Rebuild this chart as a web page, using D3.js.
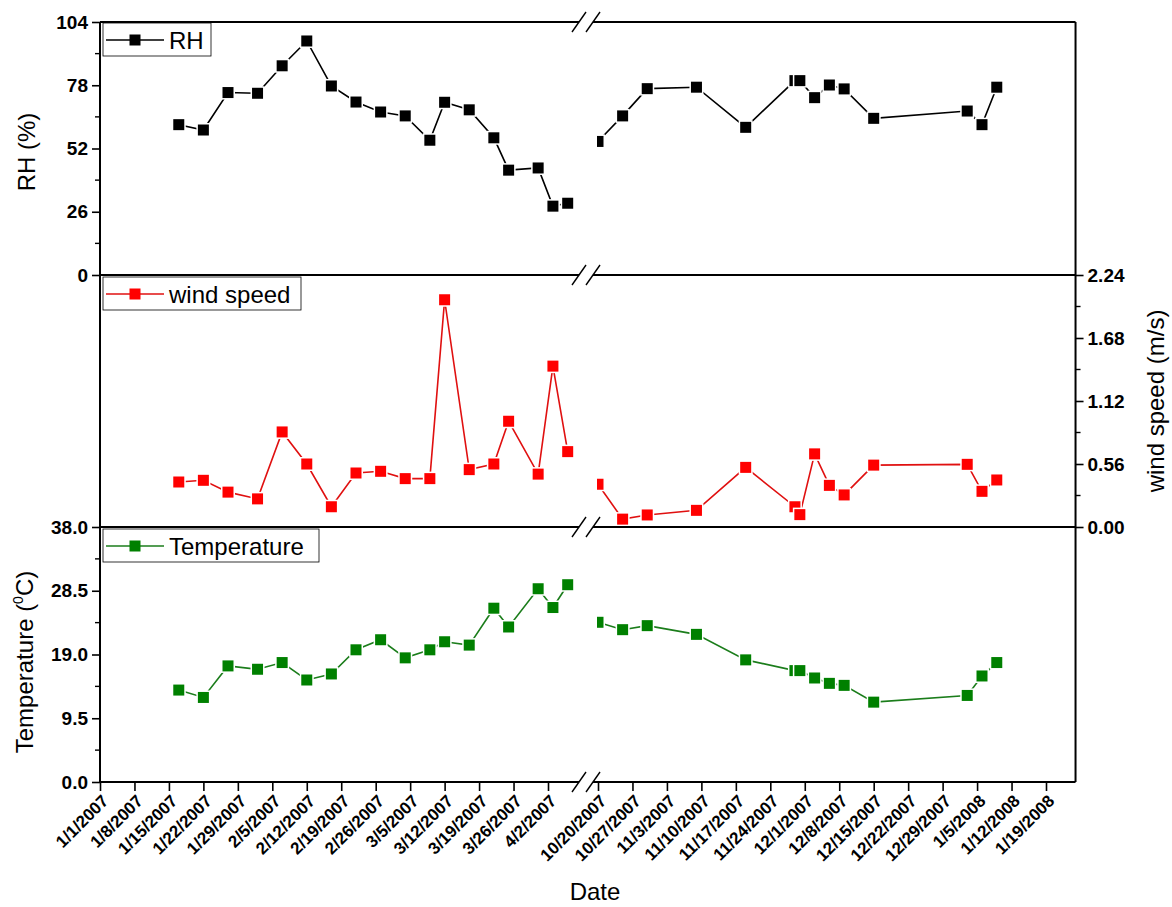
<!DOCTYPE html>
<html><head><meta charset="utf-8">
<script src="https://cdn.jsdelivr.net/npm/d3@7"></script>
<style>body{margin:0;background:#fff}</style>
</head><body><svg id="c" width="1172" height="907"></svg>
<script>
// ---------- data ----------
const datesA = ["2007-01-17","2007-01-22","2007-01-27","2007-02-02","2007-02-07","2007-02-12","2007-02-17","2007-02-22","2007-02-27","2007-03-04","2007-03-09","2007-03-12","2007-03-17","2007-03-22","2007-03-25","2007-03-31","2007-04-03","2007-04-06"];
const datesB = ["2007-10-20","2007-10-25","2007-10-30","2007-11-09","2007-11-19","2007-11-29","2007-11-30","2007-12-03","2007-12-06","2007-12-09","2007-12-15","2008-01-03","2008-01-06","2008-01-09"];
const rhA   = [61.8,59.6,75.0,74.7,86.0,96.2,77.7,71.1,67.0,65.4,55.4,71.0,67.9,56.4,43.1,44.0,28.3,29.5];
const rhB   = [54.9,65.4,76.6,77.2,60.7,79.9,79.9,72.9,78.1,76.5,64.4,67.4,61.8,77.2];
const windA = [0.40,0.415,0.31,0.25,0.845,0.56,0.18,0.48,0.495,0.43,0.43,2.02,0.51,0.56,0.94,0.47,1.43,0.67];
const windB = [0.38,0.07,0.107,0.148,0.53,0.18,0.11,0.65,0.37,0.285,0.55,0.557,0.317,0.418];
const tempA = [13.7,12.6,17.3,16.8,17.8,15.2,16.1,19.7,21.2,18.5,19.7,20.9,20.4,25.9,23.1,28.8,26.0,29.4];
const tempB = [23.8,22.7,23.3,22.0,18.2,16.6,16.6,15.5,14.7,14.4,11.9,12.9,15.8,17.8];

const xTicksA = ["1/1/2007","1/8/2007","1/15/2007","1/22/2007","1/29/2007","2/5/2007","2/12/2007","2/19/2007","2/26/2007","3/5/2007","3/12/2007","3/19/2007","3/26/2007","4/2/2007"];
const xTicksB = ["10/20/2007","10/27/2007","11/3/2007","11/10/2007","11/17/2007","11/24/2007","12/1/2007","12/8/2007","12/15/2007","12/22/2007","12/29/2007","1/5/2008","1/12/2008","1/19/2008"];
const rhTicks = [0,26,52,78,104],        rhMinor = [13,39,65,91];
const windTicks = [0,0.56,1.12,1.68,2.24], windMinor = [0.28,0.84,1.40,1.96];
const tempTicks = [0,9.5,19,28.5,38],    tempMinor = [4.75,14.25,23.75,33.25];

// ---------- layout ----------
const FONT = "'Liberation Sans', Arial, sans-serif";
const svg = d3.select("#c");
svg.append("rect").attr("width",1172).attr("height",907).attr("fill","#fff");
const pd = d3.utcParse("%Y-%m-%d");
const pt = d3.utcParse("%m/%d/%Y");
const L = 100, pxDay = 448/91;
const xL = d3.scaleUtc().domain([pd("2007-01-01"), pd("2007-04-08")]).range([L, L + 97*pxDay]);
const xR = d3.scaleUtc().domain([pd("2007-10-20"), pd("2008-01-25")]).range([598, 598 + 97*pxDay]);
const R = xR.range()[1];
const Y0 = 22, Y1 = 275, Y2 = 527, Y3 = 782;
const yRH = d3.scaleLinear().domain([0,104]).range([Y1,Y0]);
const yW  = d3.scaleLinear().domain([0,2.24]).range([Y2,Y1]);
const yT  = d3.scaleLinear().domain([0,38]).range([Y3,Y2]);
const BRK1 = 579, BRK2 = 593;

const defs = svg.append("defs");
defs.append("clipPath").attr("id","clipA").append("rect").attr("x",L).attr("y",0).attr("width",BRK1-L).attr("height",907);
defs.append("clipPath").attr("id","clipB").append("rect").attr("x",597).attr("y",0).attr("width",R-597).attr("height",907);

const series = [
  {name:"RH", a:rhA, b:rhB, y:yRH, fill:"#000000", line:"#000000"},
  {name:"wind speed", a:windA, b:windB, y:yW, fill:"#ff0000", line:"#e01010"},
  {name:"Temperature", a:tempA, b:tempB, y:yT, fill:"#008000", line:"#1b7d1b"}
];

const segs = [{dates:datesA, key:"a", x:xL, clip:"clipA"}, {dates:datesB, key:"b", x:xR, clip:"clipB"}];
const MS = 11;
series.forEach(s => {
  segs.forEach(g => {
    const pts = g.dates.map((d,i) => ({d:pd(d), v:s[g.key][i]}));
    const grp = svg.append("g").attr("clip-path", `url(#${g.clip})`);
    grp.append("path").datum(pts)
      .attr("fill","none").attr("stroke",s.line).attr("stroke-width",1.6)
      .attr("d", d3.line().x(p=>g.x(p.d)).y(p=>s.y(p.v)));
    grp.selectAll("rect.m").data(pts).join("rect")
      .attr("x", p=>g.x(p.d)-MS/2).attr("y", p=>s.y(p.v)-MS/2)
      .attr("width",MS).attr("height",MS)
      .attr("fill",s.fill).attr("stroke","#fff").attr("stroke-width",3)
      .attr("paint-order","stroke");
  });
});

// ---------- frame ----------
const frame = svg.append("g").attr("stroke","#000").attr("stroke-width",2).attr("fill","none");
frame.append("line").attr("x1",L).attr("x2",L).attr("y1",Y0).attr("y2",Y3);
frame.append("line").attr("x1",R).attr("x2",R).attr("y1",Y0).attr("y2",Y3);
[Y0,Y1,Y2,Y3].forEach(y => {
  frame.append("line").attr("x1",L).attr("x2",BRK1).attr("y1",y).attr("y2",y);
  frame.append("line").attr("x1",BRK2).attr("x2",R).attr("y1",y).attr("y2",y);
  [BRK1, BRK2].forEach(bx => {
    frame.append("line").attr("x1",bx-7).attr("x2",bx+7).attr("y1",y+10).attr("y2",y-10)
      .attr("stroke-width",1.4);
  });
});

// ---------- axes ----------
function styleAxis(g, size){
  g.select(".domain").remove();
  g.selectAll(".tick line").attr("stroke","#000").attr("stroke-width",1.6);
  g.selectAll(".tick text").attr("font-family",FONT).attr("font-weight","bold")
    .attr("font-size",size).attr("fill","#000");
}
function minor(scale, vals, x, dir){
  svg.append("g").selectAll("line").data(vals).join("line")
    .attr("x1",x).attr("x2",x+dir*5).attr("y1",d=>scale(d)).attr("y2",d=>scale(d))
    .attr("stroke","#000").attr("stroke-width",1.4);
}
const gRH = svg.append("g").attr("transform",`translate(${L},0)`)
  .call(d3.axisLeft(yRH).tickValues(rhTicks).tickSize(8).tickPadding(4).tickFormat(d3.format("d")));
styleAxis(gRH, 19);
minor(yRH, rhMinor, L, -1);
const gT = svg.append("g").attr("transform",`translate(${L},0)`)
  .call(d3.axisLeft(yT).tickValues(tempTicks).tickSize(8).tickPadding(4).tickFormat(d3.format(".1f")));
styleAxis(gT, 19);
minor(yT, tempMinor, L, -1);
const gW = svg.append("g").attr("transform",`translate(${R},0)`)
  .call(d3.axisRight(yW).tickValues(windTicks).tickSize(8).tickPadding(4).tickFormat(d3.format(".2f")));
styleAxis(gW, 19);
minor(yW, windMinor, R, 1);

[{x:xL, labels:xTicksA}, {x:xR, labels:xTicksB}].forEach(a => {
  const vals = a.labels.map(pt);
  const g = svg.append("g").attr("transform",`translate(0,${Y3})`)
    .call(d3.axisBottom(a.x).tickValues(vals).tickSize(9).tickFormat((d,i)=>a.labels[i]));
  styleAxis(g, 17);
  g.selectAll(".tick text")
    .attr("text-anchor","end").attr("dy",null).attr("y",null)
    .attr("transform","translate(9,20) rotate(-45)");
});

// ---------- axis titles ----------
function title(x, y, rot){
  return svg.append("text").attr("transform",`translate(${x},${y}) rotate(${rot})`)
    .attr("text-anchor","middle").attr("font-family",FONT).attr("font-size",24).attr("fill","#000");
}
title(35, 152, -90).text("RH (%)");
title(1164, 401, -90).text("wind speed (m/s)");
const tt = title(33, 662, -90);
tt.append("tspan").text("Temperature (");
tt.append("tspan").attr("font-size",14).attr("dy",-10).text("0");
tt.append("tspan").attr("dy",10).text("C)");
svg.append("text").attr("x",595).attr("y",900).attr("text-anchor","middle")
  .attr("font-family",FONT).attr("font-size",24).text("Date");

// ---------- legends ----------
const legs = [
  {s:series[0], y:Y0+1, w:108},
  {s:series[1], y:Y1+2, w:198},
  {s:series[2], y:Y2+2, w:216}
];
legs.forEach(l => {
  const g = svg.append("g");
  g.append("rect").attr("x",103).attr("y",l.y).attr("width",l.w).attr("height",33)
    .attr("fill","#fff").attr("stroke","#000").attr("stroke-width",0.8);
  const cy = l.y + 17;
  g.append("line").attr("x1",106).attr("x2",164).attr("y1",cy).attr("y2",cy)
    .attr("stroke",l.s.line).attr("stroke-width",1.6);
  g.append("rect").attr("x",135-MS/2).attr("y",cy-MS/2).attr("width",MS).attr("height",MS)
    .attr("fill",l.s.fill);
  g.append("text").attr("x",169).attr("y",cy+8.5).attr("font-family",FONT).attr("font-size",24)
    .text(l.s.name);
});
</script></body></html>
